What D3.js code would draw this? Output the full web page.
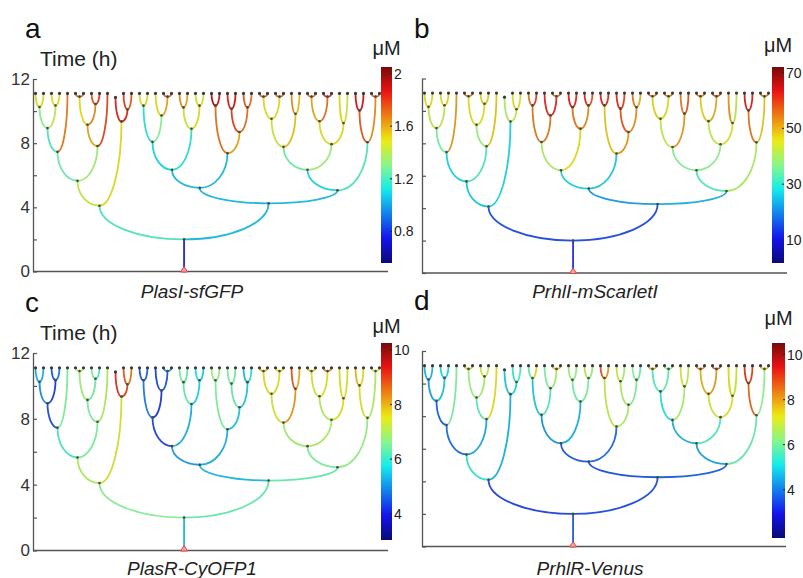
<!DOCTYPE html>
<html>
<head>
<meta charset="utf-8">
<script src="https://cdn.jsdelivr.net/npm/d3@7"></script>
<style>
  body { margin: 0; background: #fff; }
  svg { display: block; font-family: "Liberation Sans", Arial, sans-serif; }
</style>
</head>
<body>
<svg id="chart" width="803" height="578"></svg>
<script>
// lineage: each cell is named by its path from the founder ('' founder, then 0 = left / 1 = right daughter)
const cellPath = [
  '', '0', '00', '000', '0000', '00000', '000000', '000001', '00001', '000010', '000011', '0001',
  '001', '0010', '00100', '001000', '001001', '00101', '001010', '001011', '0011',
  '01', '010', '011', '0110', '0111',
  '1', '10', '100', '1000', '10000', '100000', '100001', '10001', '100010', '100011', '1000110', '1000111',
  '1001', '10010', '100100', '100101', '10011', '100110', '100111',
  '101', '1010', '10100', '10101', '1011', '10110', '101100', '101101', '10111', '101110', '101111',
  '11', '110', '1100', '11000', '110000', '1100000', '1100001', '110001', '1100010', '1100011', '11001', '110010', '110011',
  '1101', '11010', '110100', '1101000', '1101001', '110101', '1101010', '1101011', '11011', '110110', '110111',
  '111', '1110', '11100', '11101', '1111', '11110', '11111'
]

// time (h) at which each cell divides, or its last frame
const cellEnd = [
  2.0, 4.1, 5.65, 7.46, 8.94, 10.25, 11.1, 11.1, 10.35, 11.1, 11.1, 11.1,
  7.82, 9.15, 10.9, 11.1, 11.1, 10.44, 11.1, 11.1, 11.1,
  9.35, 10.85, 10.1, 11.1, 11.1,
  4.25, 5.21, 6.34, 8.08, 10.34, 11.1, 11.1, 9.72, 11.1, 10.9, 11.1, 11.1,
  8.9, 10.23, 11.1, 11.1, 10.34, 11.1, 11.1,
  7.37, 10.34, 11.1, 11.1, 8.7, 10.14, 11.1, 11.1, 10.23, 11.1, 11.1,
  5.06, 6.34, 7.77, 9.52, 10.9, 11.1, 11.1, 10.9, 11.1, 11.1, 9.83, 11.1, 11.1,
  7.94, 9.37, 10.9, 11.1, 11.1, 10.9, 11.1, 11.1, 9.25, 11.1, 11.1,
  8.06, 10.03, 11.1, 11.1, 10.9, 11.1, 11.1
]

// reporter concentration per cell (μM)
const plasI = [
  0.75, 1.2, 1.42, 1.25, 1.2, 1.3, 1.5, 1.5, 1.4, 1.5, 1.48, 1.68,
  1.35, 1.6, 1.5, 1.75, 1.75, 1.65, 1.75, 1.8, 1.78,
  1.5, 1.85, 1.85, 1.8, 1.75,
  1.05, 1.05, 1.05, 1.1, 1.15, 1.5, 1.5, 1.3, 1.5, 1.6, 1.75, 1.75,
  1.15, 1.45, 1.65, 1.6, 1.5, 1.5, 1.45,
  1.05, 1.7, 1.95, 1.9, 1.6, 1.8, 1.85, 1.9, 1.7, 1.75, 1.7,
  1.05, 1.1, 1.25, 1.45, 1.5, 1.75, 1.75, 1.5, 1.75, 1.75, 1.55, 1.65, 1.55,
  1.35, 1.5, 1.6, 1.7, 1.7, 1.7, 1.85, 1.85, 1.5, 1.5, 1.45,
  1.2, 1.75, 1.9, 1.9, 1.65, 1.75, 1.75
]
const rhlI = [
  12, 15, 26, 27, 35, 42, 46, 46, 42, 46, 47, 52,
  32, 38, 46, 55, 55, 45, 47, 47, 48,
  27, 40, 42, 46, 45,
  15, 22, 27, 40, 55, 55, 60, 55, 62, 62, 56, 56,
  46, 55, 63, 62, 53, 62, 58,
  26, 48, 63, 62, 52, 58, 62, 60, 53, 55, 50,
  24, 32, 36, 42, 47, 55, 55, 46, 55, 55, 52, 55, 58,
  37, 42, 47, 54, 54, 50, 58, 58, 45, 52, 42,
  40, 55, 64, 63, 48, 55, 55
]
const plasR = [
  5.4, 6.6, 7.0, 6.1, 4.4, 5.0, 5.3, 5.3, 4.2, 4.5, 4.8, 6.5,
  6.5, 6.5, 6.8, 7.0, 7.0, 6.4, 6.5, 6.2, 7.0,
  7.4, 9.2, 9.0, 8.8, 8.5,
  6.3, 5.4, 5.1, 4.3, 4.8, 4.5, 4.6, 4.2, 4.3, 4.5, 5.0, 5.0,
  5.3, 6.3, 6.5, 6.3, 5.6, 5.8, 5.6,
  5.3, 6.5, 6.8, 6.6, 5.5, 6.3, 6.5, 6.4, 5.5, 5.4, 5.8,
  6.3, 6.5, 6.9, 7.3, 7.6, 8.0, 8.0, 7.5, 7.5, 7.5, 8.2, 8.8, 8.0,
  7.0, 7.0, 7.4, 7.8, 7.8, 7.5, 8.4, 8.4, 7.5, 7.6, 7.4,
  6.7, 7.5, 7.9, 7.6, 7.0, 7.3, 7.3
]
const rhlR = [
  3.6, 3.4, 5.3, 3.8, 3.7, 4.4, 4.6, 4.7, 4.8, 5.0, 5.0, 6.0,
  4.5, 5.7, 6.3, 7.5, 7.5, 6.5, 7.0, 6.8, 7.3,
  4.6, 4.8, 5.0, 5.3, 5.6,
  3.5, 3.5, 3.6, 4.3, 4.8, 5.8, 7.3, 5.6, 6.0, 6.5, 7.6, 7.6,
  4.6, 5.9, 6.4, 6.2, 6.0, 6.8, 6.3,
  3.8, 6.8, 8.8, 8.0, 6.5, 6.6, 7.0, 6.5, 6.0, 6.2, 5.8,
  3.7, 4.4, 4.6, 5.2, 5.6, 7.8, 7.8, 5.8, 6.0, 6.0, 6.5, 7.0, 6.8,
  5.6, 7.0, 7.8, 8.2, 8.2, 8.0, 8.8, 8.8, 7.2, 7.3, 7.0,
  5.8, 8.6, 9.2, 9.0, 6.2, 7.6, 7.6
]

// colour bar ranges and ticks
const plasIRange = [0.56, 2.05], plasITicks = [0.8, 1.2, 1.6, 2]
const rhlIRange = [1.75, 72], rhlITicks = [10, 30, 50, 70]
const plasRRange = [3.03, 10.26], plasRTicks = [4, 6, 8, 10]
const rhlRRange = [1.85, 10.52], rhlRTicks = [4, 6, 8, 10]
const timeTicks = [0, 2, 4, 6, 8, 10, 12]

const panels = [
  { letter: 'a', name: 'PlasI-sfGFP', values: plasI, range: plasIRange, ticks: plasITicks,
    x0: 33, x1: 388, y0: 271.5, y12: 79, cb: [381, 67, 392, 263], labels: true, nameX: 192, nameY: 298, muY: 55 },
  { letter: 'b', name: 'PrhlI-mScarletI', values: rhlI, range: rhlIRange, ticks: rhlITicks,
    x0: 422, x1: 787, y0: 273, y12: 78.5, cb: [772, 67, 784, 263], labels: false, nameX: 595, nameY: 298, muY: 52 },
  { letter: 'c', name: 'PlasR-CyOFP1', values: plasR, range: plasRRange, ticks: plasRTicks,
    x0: 33, x1: 388, y0: 550.5, y12: 353, cb: [381, 343, 392, 540], labels: true, nameX: 192, nameY: 575, muY: 333 },
  { letter: 'd', name: 'PrhlR-Venus', values: rhlR, range: rhlRRange, ticks: rhlRTicks,
    x0: 422, x1: 786, y0: 546.5, y12: 351, cb: [772, 343, 785, 538], labels: false, nameX: 590, nameY: 575, muY: 325 }
]

// MATLAB-style jet colormap, slightly muted like the printed figure
function jet(t, sat = 0.72) {
  t = Math.max(0, Math.min(1, t))
  const c = v => Math.round(255 * Math.max(0, Math.min(1, v)))
  const col = d3.hsl(d3.rgb(c(1.5 - Math.abs(4 * t - 3)), c(1.5 - Math.abs(4 * t - 2)), c(1.5 - Math.abs(4 * t - 1))))
  col.s *= sat
  return col.formatRgb()
}

// build tree
const nodes = cellPath.map((p, i) => ({ path: p, end: cellEnd[i], idx: i }))
const byPath = new Map(nodes.map(n => [n.path, n]))
nodes.forEach(n => {
  n.kids = ['0', '1'].map(s => byPath.get(n.path + s)).filter(Boolean)
  n.parent = n.path ? byPath.get(n.path.slice(0, -1)) : null
})
let leafCount = 0
function place(n) {
  n.pos = n.kids.length ? d3.mean(n.kids.map(place)) : leafCount++
  return n.pos
}
const founder = byPath.get('')
place(founder)

const svg = d3.select('#chart')
const defs = svg.append('defs')

panels.forEach((p, pi) => {
  const g = svg.append('g')
  const x = d3.scaleLinear().domain([0, leafCount - 1]).range([p.x0 + 2.5, p.x0 + 2.5 + (leafCount - 1) * 8])
  const y = d3.scaleLinear().domain([0, 12]).range([p.y0, p.y12])
  const color = d3.scaleSequential(t => jet(t)).domain(p.range)

  // axes
  const yAxis = g.append('g').attr('transform', `translate(${p.x0},0)`)
    .call(d3.axisLeft(y).tickValues(timeTicks).tickSizeInner(-4).tickSizeOuter(0).tickPadding(3)
      .tickFormat(d => (p.labels && d % 4 === 0) ? d : ''))
  yAxis.select('.domain').attr('stroke', '#555').attr('stroke-width', 1.3)
  yAxis.selectAll('.tick line').attr('stroke', '#555').attr('stroke-width', 1.2)
  yAxis.selectAll('.tick text').attr('fill', '#333').style('font-size', '17px').attr('font-family', null)
  g.append('line').attr('x1', p.x0).attr('x2', p.x1).attr('y1', p.y0).attr('y2', p.y0)
    .attr('stroke', '#555').attr('stroke-width', 1.3)

  // branches
  const branch = g.append('g').attr('fill', 'none').attr('stroke-width', 1.8).attr('stroke-linecap', 'round')
  nodes.forEach(n => {
    const xc = x(n.pos), yc = y(n.end)
    let d
    if (!n.parent) {
      d = `M${xc},${y(0)} V${yc}`
    } else {
      const xp = x(n.parent.pos), yp = y(n.parent.end)
      const rx = Math.abs(xc - xp), ry = Math.abs(yp - yc)
      d = `M${xp},${yp} A${rx},${ry} 0 0 ${xc > xp ? 0 : 1} ${xc},${yc}`
    }
    branch.append('path').attr('d', d).attr('stroke', color(p.values[n.idx]))
  })

  // division points and final cells
  g.append('g').selectAll('circle').data(nodes.filter(n => n.kids.length)).join('circle')
    .attr('cx', n => x(n.pos)).attr('cy', n => y(n.end)).attr('r', 1.3).attr('fill', '#4a4a3a')
  g.append('g').selectAll('circle').data(nodes.filter(n => !n.kids.length)).join('circle')
    .attr('cx', n => x(n.pos)).attr('cy', n => y(n.end)).attr('r', 1.6).attr('fill', '#3a3a3a')

  // founder marker
  const fx = x(founder.pos)
  g.append('path').attr('d', `M${fx - 3.5},${p.y0 + 0.5} L${fx},${p.y0 - 5} L${fx + 3.5},${p.y0 + 0.5} Z`)
    .attr('fill', '#f4a3a3').attr('stroke', '#e04545').attr('stroke-width', 1)

  // colour bar
  const [cx0, cy0, cx1, cy1] = p.cb
  const grad = defs.append('linearGradient').attr('id', 'cb' + pi)
    .attr('x1', 0).attr('y1', 1).attr('x2', 0).attr('y2', 0)
  d3.range(0, 1.0001, 0.02).forEach(t => grad.append('stop').attr('offset', t).attr('stop-color', jet(t, 0.85)))
  g.append('rect').attr('x', cx0).attr('y', cy0).attr('width', cx1 - cx0).attr('height', cy1 - cy0)
    .attr('fill', `url(#cb${pi})`)
  const cbScale = d3.scaleLinear().domain(p.range).range([cy1, cy0])
  p.ticks.forEach(v => {
    g.append('line').attr('x1', cx1 - 2).attr('x2', cx1).attr('y1', cbScale(v)).attr('y2', cbScale(v))
      .attr('stroke', '#222').attr('stroke-width', 1)
    g.append('text').attr('x', cx1 + 2).attr('y', cbScale(v)).attr('dominant-baseline', 'central')
      .attr('fill', '#222').style('font-size', '14px').text(v)
  })
  g.append('text').attr('x', (cx0 + cx1) / 2).attr('y', p.muY).attr('text-anchor', 'middle')
    .attr('fill', '#222').style('font-size', '20px').text('μM')

  // texts
  g.append('text').attr('x', p.x0 - 8).attr('y', p.y12 - 41).attr('fill', '#111')
    .style('font-size', '28px').text(p.letter)
  if (p.labels) {
    g.append('text').attr('x', p.x0 + 7).attr('y', p.y12 - 13).attr('fill', '#222')
      .style('font-size', '21px').text('Time (h)')
  }
  g.append('text').attr('x', p.nameX).attr('y', p.nameY).attr('text-anchor', 'middle')
    .attr('fill', '#222').style('font-size', '19px').style('font-style', 'italic').text(p.name)
})
</script>
</body>
</html>
